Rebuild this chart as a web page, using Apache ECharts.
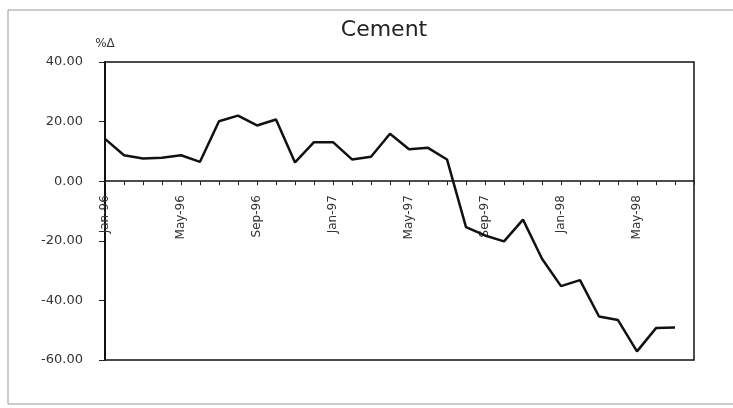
<!DOCTYPE html>
<html>
<head>
<meta charset="utf-8">
<script src="https://cdn.jsdelivr.net/npm/echarts@6/dist/echarts.min.js"></script>
<style>
  html, body { margin: 0; padding: 0; background: #fff; }
  #chart { width: 733px; height: 408px; }
</style>
</head>
<body>
<div id="chart"></div>
<script>
// months Jan-96 .. Aug-98 (last slot empty)
const months = [
  "Jan-96", "Feb-96", "Mar-96", "Apr-96", "May-96", "Jun-96", "Jul-96", "Aug-96",
  "Sep-96", "Oct-96", "Nov-96", "Dec-96", "Jan-97", "Feb-97", "Mar-97", "Apr-97",
  "May-97", "Jun-97", "Jul-97", "Aug-97", "Sep-97", "Oct-97", "Nov-97", "Dec-97",
  "Jan-98", "Feb-98", "Mar-98", "Apr-98", "May-98", "Jun-98", "Jul-98", "Aug-98"
];
// % change, cement
const cement = [
  14.2, 8.7, 7.6, 7.9, 8.7, 6.5, 20.1, 22.0,
  18.7, 20.7, 6.3, 13.1, 13.1, 7.3, 8.2, 15.9,
  10.7, 11.2, 7.3, -15.4, -18.2, -20.2, -12.9, -26.0,
  -35.2, -33.2, -45.4, -46.6, -57.1, -49.3, -49.1, null
];
const yTicks = [-60, -40, -20, 0, 20, 40];

const gridTop = 62;
const gridBottom = 48;
const plotH = 408 - gridTop - gridBottom;
// distance from top of plot down to the zero line
const zeroOffset = plotH * yTicks[yTicks.length - 1] / (yTicks[yTicks.length - 1] - yTicks[0]);

const chart = echarts.init(document.getElementById("chart"));
chart.setOption({
  animation: false,
  title: {
    text: "Cement",
    left: 379,
    top: 14,
    textAlign: "center",
    textStyle: { fontFamily: "DejaVu Sans", fontSize: 22, fontWeight: "normal", color: "#222" }
  },
  grid: {
    left: 105,
    right: 39,
    top: gridTop,
    bottom: gridBottom,
    outerBoundsMode: "none",
    containLabel: false,
    show: true,
    borderColor: "#111",
    borderWidth: 1.5
  },
  xAxis: [
    {
      type: "category",
      data: months,
      boundaryGap: false,
      axisLine: { onZero: true, lineStyle: { color: "#111", width: 1.5 } },
      axisTick: { show: true, interval: 0, length: 4, lineStyle: { color: "#222" } },
      axisLabel: { show: false },
      splitLine: { show: false }
    },
    {
      // label row hanging under the zero line
      type: "category",
      data: months,
      boundaryGap: false,
      position: "top",
      offset: -zeroOffset,
      axisLine: { show: false },
      axisTick: { show: false },
      axisLabel: {
        inside: true,
        interval: 3,
        rotate: -90,
        margin: 14,
        fontFamily: "DejaVu Sans",
        fontSize: 12,
        color: "#333"
      },
      splitLine: { show: false }
    }
  ],
  yAxis: {
    type: "value",
    min: yTicks[0],
    max: yTicks[yTicks.length - 1],
    interval: 20,
    name: "%Δ",
    nameLocation: "end",
    nameGap: 12,
    nameTextStyle: { fontFamily: "DejaVu Sans", fontSize: 12, color: "#333", align: "center" },
    axisLine: { show: true, lineStyle: { color: "#111", width: 2 } },
    axisTick: { show: true, length: 6, lineStyle: { color: "#222" } },
    axisLabel: {
      margin: 22,
      fontFamily: "DejaVu Sans",
      fontSize: 13,
      color: "#333",
      formatter: (v) => v.toFixed(2)
    },
    splitLine: { show: false }
  },
  series: [
    {
      type: "line",
      xAxisIndex: 0,
      data: cement,
      showSymbol: false,
      connectNulls: false,
      lineStyle: { color: "#111", width: 2.5 }
    }
  ],
  graphic: [
    {
      type: "rect",
      shape: { x: 8, y: 10, width: 740, height: 394 },
      style: { fill: "none", stroke: "#999", lineWidth: 1 },
      silent: true
    }
  ]
});
</script>
</body>
</html>
